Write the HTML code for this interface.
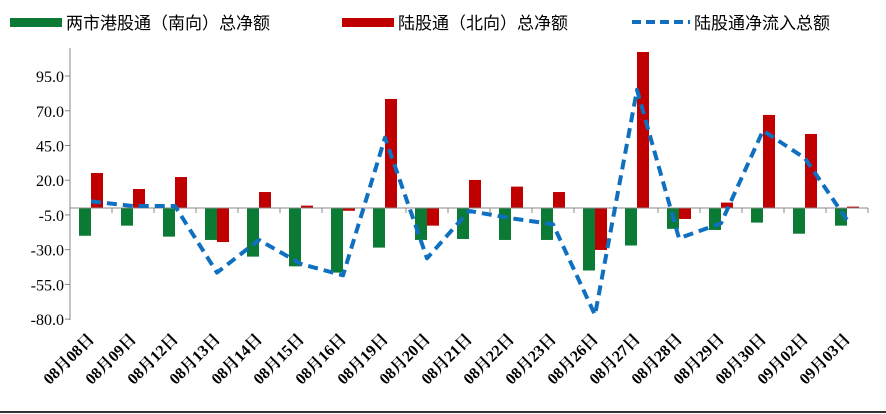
<!DOCTYPE html>
<html><head><meta charset="utf-8">
<style>
body{margin:0;background:#fff;}
svg{display:block;font-family:"Liberation Serif","Noto Serif CJK SC",serif;}
</style></head>
<body>
<svg id="chart" width="886" height="414" viewBox="0 0 886 414" xmlns="http://www.w3.org/2000/svg">
<g font-family="Liberation Sans, Noto Sans CJK SC, sans-serif" font-size="17" fill="#000">
  <g><rect x="10" y="18" width="52" height="9" fill="#0a7a35"/><text x="66" y="29">两市港股通（南向）总净额</text></g>
  <g><rect x="342" y="18" width="52" height="9" fill="#c00000"/><text x="398" y="29">陆股通（北向）总净额</text></g>
  <g><line x1="632" y1="22" x2="690" y2="22" stroke="#1070c0" stroke-width="4" stroke-dasharray="9,5"/><text x="694" y="29">陆股通净流入总额</text></g>
</g>
<g id="plot"></g>
</svg>
<script>
const categories=["08月08日","08月09日","08月12日","08月13日","08月14日","08月15日","08月16日","08月19日","08月20日","08月21日","08月22日","08月23日","08月26日","08月27日","08月28日","08月29日","08月30日","09月02日","09月03日"];
const southValues=[-20,-12.7,-20.6,-23,-35,-42,-46.5,-28.5,-23,-22.3,-23,-23,-45,-27,-15,-15.8,-10.5,-18.5,-12.7];
const northValues=[25.2,13.7,22.3,-24.5,11.5,1.7,-2,78.5,-12.7,20.2,15.4,11.5,-30.2,112.3,-7.9,3.9,67,53.3,1];
const totalValues=[4.8,1.4,1.4,-46.5,-23,-40.3,-48.5,50.6,-36.2,-2.1,-7.4,-11.7,-77,85,-21.8,-11,55.7,35.8,-8.6];
const yTicks=[95,70,45,20,-5,-30,-55,-80];

const NS="http://www.w3.org/2000/svg";
const plot=document.getElementById('plot');
const X0=70,STEP=42,Y0=208,PPU=1.389,BW=12;
const y=v=>Y0-v*PPU;
const xc=i=>X0+(i+0.5)*STEP;
function mk(tag,attrs,parent){const e=document.createElementNS(NS,tag);for(const k in attrs)e.setAttribute(k,attrs[k]);(parent||plot).appendChild(e);return e;}

let ax=mk('line',{x1:X0,y1:48,x2:X0,y2:320,stroke:'#888','stroke-width':1});


yTicks.forEach(t=>{
  const tk=mk('line',{x1:X0-5,y1:y(t),x2:X0,y2:y(t),stroke:'#888'});
  
  
  const lb=mk('text',{x:X0-6,y:y(t)+6,'text-anchor':'end','font-size':16,fill:'#000'});
  lb.textContent=t.toFixed(1);
  
  
});
categories.forEach((c,i)=>{
  const s=southValues[i],n=northValues[i];
  const gb=mk('rect',{x:xc(i)-BW,y:Math.min(y(s),Y0),width:BW,height:Math.abs(y(s)-Y0),fill:'#0a7a35'});
  
  
  const rb=mk('rect',{x:xc(i),y:Math.min(y(n),Y0),width:BW,height:Math.abs(y(n)-Y0),fill:'#c00000'});
  
  
});
let xa=mk('line',{x1:X0,y1:Y0,x2:X0+STEP*categories.length,y2:Y0,stroke:'#888'});


for(let i=0;i<=categories.length;i++){
  const tk=mk('line',{x1:X0+i*STEP,y1:Y0,x2:X0+i*STEP,y2:Y0+5,stroke:'#888'});
  
  
}
categories.forEach((c,i)=>{
  const tx=xc(i)+4,ty=340;
  const lb=mk('text',{x:tx,y:ty,'text-anchor':'end','font-size':16,'font-weight':'bold',fill:'#000',transform:`rotate(-45 ${tx} ${ty})`});
  lb.textContent=c;
  
  
});
const pts=totalValues.map((v,i)=>xc(i)+','+y(v)).join(' ');
const pl=mk('polyline',{points:pts,fill:'none',stroke:'#1070c0','stroke-width':4,'stroke-dasharray':'10,6','stroke-linejoin':'round'});


let bl=mk('line',{x1:0,y1:412,x2:886,y2:412,stroke:'#333','stroke-width':2});


</script>
</body></html>
